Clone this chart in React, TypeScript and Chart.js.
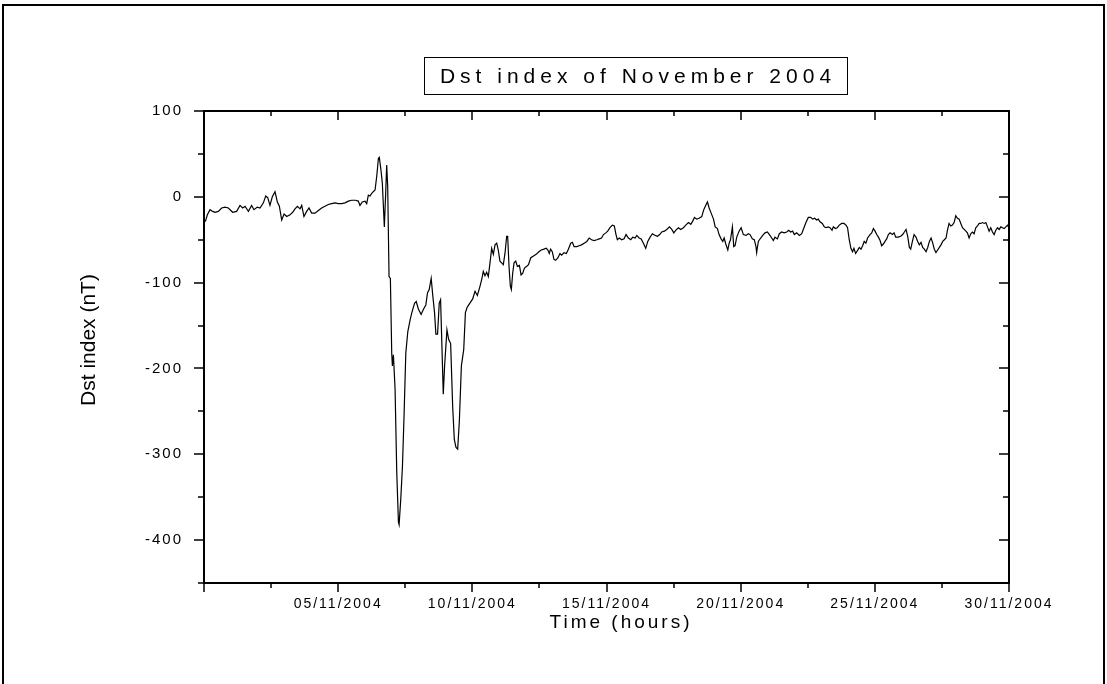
import React, { useEffect, useRef } from "react";
import { Chart, registerables } from "chart.js";

Chart.register(...registerables);

const chartTitle = "Dst index of November 2004";
const xAxisTitle = "Time (hours)";
const yAxisTitle = "Dst index (nT)";

const xMajorHours = [0, 120, 240, 360, 480, 600, 720];
const xTickLabels = ["", "05/11/2004", "10/11/2004", "15/11/2004", "20/11/2004", "25/11/2004", "30/11/2004"];
const xMinorHours = [60, 180, 300, 420, 540, 660];
const yMajorTicks = [100, 0, -100, -200, -300, -400];
const yMinorTicks = [50, -50, -150, -250, -350, -450];

const hours = [
  1.2, 3.0, 5.4, 7.8, 9.8, 12.8, 15.8, 18.8, 21.8, 25.6, 29.2, 32.2, 34.6, 36.7, 39.7, 42.6, 44.7, 47.7, 50.1, 53.1,
  55.2, 57.0, 59.0, 61.1, 63.5, 65.6, 67.4, 69.5, 71.6, 74.0, 76.9, 79.3, 81.4, 83.5, 85.9, 87.4, 89.4, 91.8, 93.9, 96.3,
  99.3, 102.3, 105.2, 108.2, 111.2, 114.2, 117.2, 120.2,
  123.1, 126.1, 129.1, 132.0, 135.6, 138.0, 139.5, 141.6, 144.0, 145.5, 147.0, 148.5, 150.6, 153.0, 154.5, 156.0, 156.8,
  158.3, 159.5, 161.3, 162.5, 163.4, 164.3, 165.5, 166.7, 167.9, 168.5, 169.4, 170.9, 172.4, 173.9, 174.5, 176.0, 177.5,
  179.0, 180.5, 182.3, 184.4, 185.9, 188.3, 189.8, 191.8, 194.2, 196.3, 198.4, 199.9, 201.4, 203.2, 204.7, 206.2, 207.4,
  208.9, 210.4, 211.6, 212.8, 214.0, 215.2, 217.3, 218.8, 220.6, 222.4, 223.9, 225.4, 226.9, 228.4, 230.2, 232.3, 233.8,
  235.3, 236.8,
  240.3, 242.4, 244.5, 246.9, 248.6, 249.8, 251.3, 252.8, 254.3, 255.8, 257.3, 258.8, 260.3, 261.8, 263.2, 264.7, 266.2,
  267.7, 269.2, 270.7, 271.6, 272.8, 274.0, 274.9, 276.1, 277.3, 278.8, 280.3, 282.1, 283.6, 285.1, 286.6, 288.7, 290.2,
  292.3, 294.7, 297.1, 299.5, 301.6, 304.0, 306.1, 307.6, 308.8, 310.0, 311.5, 313.0, 314.5, 316.6, 318.4, 319.9, 322.0,
  324.1, 325.9, 328.0, 329.5, 331.0, 333.4, 335.5, 337.6, 340.0, 342.4, 344.5, 346.6, 349.0, 351.4, 353.5, 355.6, 357.3,
  359.4,
  361.1, 363.1, 365.2, 367.0, 368.5, 369.7, 371.5, 373.6, 375.7, 377.5, 379.6, 381.7, 383.5, 385.6, 387.1, 389.2, 391.0,
  393.0, 395.1, 396.9, 399.0, 401.1, 403.5, 405.6, 407.6, 409.4, 411.8, 413.9, 416.3, 418.4, 420.2, 421.9, 424.3, 426.4,
  428.8, 430.9, 433.3, 435.4, 437.2, 438.7, 440.7, 442.8, 445.2, 447.0, 449.1, 450.3, 451.8, 453.6, 455.7, 457.2, 459.2,
  460.7, 462.5, 464.0, 465.2, 466.7, 468.5, 469.7, 470.9, 472.6, 473.8, 475.0, 476.5, 478.6, 480.4,
  482.4, 484.8, 486.9, 488.4, 490.4, 492.2, 493.7, 494.3, 495.8, 497.9, 499.7, 501.8, 503.9, 505.7, 507.8, 509.2, 510.7,
  512.8, 514.6, 516.7, 518.8, 521.2, 523.0, 524.7, 526.5, 528.0, 530.1, 532.5, 534.6, 536.6, 538.4, 540.5, 542.6, 544.4,
  546.2, 547.9, 549.4, 550.9, 553.0, 554.8, 556.3, 558.1, 559.9, 561.7, 562.9, 564.7, 566.4, 568.2, 570.3, 572.4, 574.2,
  575.6, 577.1, 578.6, 580.1, 581.3, 582.8, 584.3, 586.1, 587.6, 589.1, 590.5, 592.0, 593.5,
  595.7, 597.2, 598.7, 600.2, 601.7, 603.2, 604.7, 606.1, 607.6, 609.1, 610.6, 612.1, 613.6, 615.7, 617.2, 618.7, 621.0,
  623.1, 624.9, 626.4, 627.9, 629.4, 630.9, 632.1, 633.6, 635.1, 636.8, 638.3, 639.8, 641.3, 642.8, 644.3, 645.8, 647.3,
  648.8, 650.3, 651.8, 653.2, 654.7, 656.2, 657.7, 659.2, 660.7, 662.2, 663.7, 664.9, 666.4, 667.9, 669.4, 670.9, 672.4,
  673.9, 675.4, 676.9, 678.4, 679.9, 681.4, 682.8, 684.3, 685.8, 687.3, 688.8, 690.3, 691.8, 693.3, 694.8, 696.3, 697.8,
  699.3, 700.8, 702.2, 703.7, 705.2, 706.7, 708.2, 709.7, 711.2, 712.7, 714.2, 715.7, 717.2, 718.7, 719.6,
];

const dst = [
  -29, -21, -15, -17, -18, -17, -13, -12, -13, -18, -17, -10, -13, -11, -17, -10, -15, -12, -13, -7,
  1, -1, -10, 0, 6, -6, -11, -27, -20, -23, -21, -18, -14, -11, -14, -10, -23, -17, -13, -19,
  -19, -16, -13, -11, -9, -8, -7, -8,
  -8, -7, -5, -4, -4, -5, -10, -6, -5, -8, 2, 1, 5, 8, 24, 45, 46,
  31, 16, -35, 4, 37, 12, -93, -95, -182, -197, -184, -224, -321, -379, -382, -352, -314,
  -252, -182, -157, -143, -135, -124, -122, -131, -137, -131, -126, -112, -108, -95, -116, -135, -160,
  -160, -124, -120, -174, -230, -197, -155, -166, -171, -244, -283, -292, -294, -261, -197, -178, -135,
  -129, -126,
  -119, -110, -115, -104, -95, -87, -92, -88, -93, -77, -60, -67, -56, -54, -62, -75, -77,
  -79, -66, -46, -46, -81, -104, -108, -89, -77, -75, -81, -80, -91, -89, -83, -81, -79,
  -71, -69, -67, -64, -62, -61, -60, -62, -66, -61, -64, -73, -74, -71, -66, -68, -65,
  -66, -61, -54, -53, -58, -58, -57, -56, -54, -52, -48, -50, -51, -50, -49, -48, -44,
  -42,
  -40, -36, -33, -34, -44, -50, -48, -50, -49, -44, -48, -50, -47, -48, -45, -48, -49,
  -54, -60, -52, -47, -43, -45, -46, -44, -41, -40, -38, -35, -38, -42, -39, -36, -38,
  -36, -33, -30, -32, -28, -24, -26, -25, -23, -15, -9, -6, -13, -19, -26, -35, -37,
  -44, -49, -52, -48, -55, -62, -54, -50, -35, -58, -57, -47, -40, -36,
  -44, -45, -43, -44, -49, -50, -58, -65, -52, -48, -45, -42, -41, -44, -48, -51, -47,
  -49, -43, -41, -42, -41, -39, -41, -40, -44, -42, -45, -43, -36, -30, -24, -24, -26,
  -25, -27, -26, -29, -31, -35, -36, -35, -36, -39, -35, -37, -36, -33, -31, -31, -33,
  -36, -50, -60, -64, -60, -66, -63, -59, -61, -57, -52, -54, -48,
  -44, -42, -37, -40, -44, -47, -51, -57, -55, -52, -49, -44, -42, -44, -42, -47, -47,
  -46, -44, -41, -38, -46, -59, -61, -52, -44, -47, -52, -56, -53, -59, -61, -64, -59,
  -52, -48, -54, -61, -65, -62, -59, -56, -52, -50, -48, -39, -31, -34, -33, -30, -22,
  -25, -26, -31, -36, -38, -40, -42, -48, -43, -41, -43, -36, -34, -31, -31, -30, -31,
  -30, -35, -40, -36, -41, -44, -39, -36, -38, -35, -36, -37, -35, -33, -35,
];

const FONT = '"Liberation Sans", Arial, Helvetica, sans-serif';

const decorPlugin = {
  id: "decor",
  beforeDraw(chart: any) {
    const ctx = chart.ctx;
    ctx.save();
    ctx.fillStyle = "#ffffff";
    ctx.fillRect(0, 0, chart.width, chart.height);
    ctx.restore();
    ctx.letterSpacing = "2px";
  },
  beforeDatasetsDraw(chart: any) {
    chart.ctx.letterSpacing = "0px";
  },
  afterDraw(chart: any) {
    const ctx = chart.ctx;
    const { left, right, top, bottom } = chart.chartArea;
    const xs = chart.scales.x;
    const ys = chart.scales.y;
    ctx.save();
    ctx.letterSpacing = "0px";
    ctx.strokeStyle = "#000";
    ctx.fillStyle = "#000";

    // plot frame
    ctx.lineWidth = 2;
    ctx.strokeRect(left, top, right - left, bottom - top);

    // ticks
    ctx.lineWidth = 1.5;
    const xTick = (v: number, len: number) => {
      const px = Math.round(xs.getPixelForValue(v));
      ctx.beginPath();
      ctx.moveTo(px, bottom);
      ctx.lineTo(px, bottom + len);
      ctx.moveTo(px, top);
      ctx.lineTo(px, top + len);
      ctx.stroke();
    };
    const yTick = (v: number, len: number) => {
      const py = Math.round(ys.getPixelForValue(v));
      ctx.beginPath();
      ctx.moveTo(left - len, py);
      ctx.lineTo(left, py);
      ctx.moveTo(right - len, py);
      ctx.lineTo(right, py);
      ctx.stroke();
    };
    xMajorHours.forEach((v) => xTick(v, 9));
    xMinorHours.forEach((v) => xTick(v, 5));
    yMajorTicks.forEach((v) => yTick(v, 10));
    yMinorTicks.forEach((v) => yTick(v, 6));

    // outer frame
    ctx.lineWidth = 2;
    ctx.strokeRect(3, 5, 1101, 720);

    // title box
    ctx.lineWidth = 1;
    ctx.strokeRect(424.5, 57.5, 423, 37);
    ctx.font = `21px ${FONT}`;
    (ctx as any).letterSpacing = "5px";
    ctx.textAlign = "center";
    ctx.textBaseline = "middle";
    ctx.fillText(chartTitle, 638, 77);

    // x axis title
    ctx.font = `19px ${FONT}`;
    (ctx as any).letterSpacing = "3px";
    ctx.fillText(xAxisTitle, 621, 623);

    // y axis title
    (ctx as any).letterSpacing = "0px";
    ctx.font = `21px ${FONT}`;
    ctx.translate(89, 340);
    ctx.rotate(-Math.PI / 2);
    ctx.fillText(yAxisTitle, 0, 0);
    ctx.restore();
  },
};

export default function App() {
  const canvasRef = useRef<HTMLCanvasElement | null>(null);

  useEffect(() => {
    const canvas = canvasRef.current;
    if (!canvas) return;
    const points = hours.map((h, i) => ({ x: h, y: dst[i] }));
    const chart = new Chart(canvas, {
      type: "line",
      data: {
        datasets: [
          {
            data: points,
            borderColor: "#000000",
            borderWidth: 1.2,
            pointRadius: 0,
            fill: false,
            tension: 0,
          },
        ],
      },
      options: {
        responsive: false,
        animation: false,
        devicePixelRatio: 1,
        layout: { padding: { left: 0, top: 111, right: 98, bottom: 0 } },
        plugins: {
          legend: { display: false },
          tooltip: { enabled: false },
          title: { display: false },
        },
        scales: {
          x: {
            type: "linear",
            min: 0,
            max: 720,
            afterBuildTicks: (s: any) => {
              s.ticks = xMajorHours.map((v) => ({ value: v }));
            },
            afterFit: (s: any) => {
              s.height = 101;
            },
            grid: { display: false, drawTicks: false },
            border: { display: false },
            ticks: {
              autoSkip: false,
              maxRotation: 0,
              minRotation: 0,
              padding: 13,
              color: "#000",
              font: { family: FONT, size: 14 },
              callback: (v: any) => {
                const i = xMajorHours.indexOf(Number(v));
                return i >= 0 ? xTickLabels[i] : "";
              },
            },
          },
          y: {
            type: "linear",
            min: -450,
            max: 100,
            afterBuildTicks: (s: any) => {
              s.ticks = yMajorTicks.map((v) => ({ value: v }));
            },
            afterFit: (s: any) => {
              s.width = 204;
            },
            grid: { display: false, drawTicks: false },
            border: { display: false },
            ticks: {
              autoSkip: false,
              padding: 21,
              color: "#000",
              font: { family: FONT, size: 15 },
              callback: (v: any) => String(v),
            },
          },
        },
      },
      plugins: [decorPlugin],
    });
    return () => chart.destroy();
  }, []);

  return (
    <div style={{ position: "absolute", left: 0, top: 0, width: 1107, height: 684, background: "#fff" }}>
      <canvas ref={canvasRef} width={1107} height={684} style={{ display: "block" }} />
    </div>
  );
}
